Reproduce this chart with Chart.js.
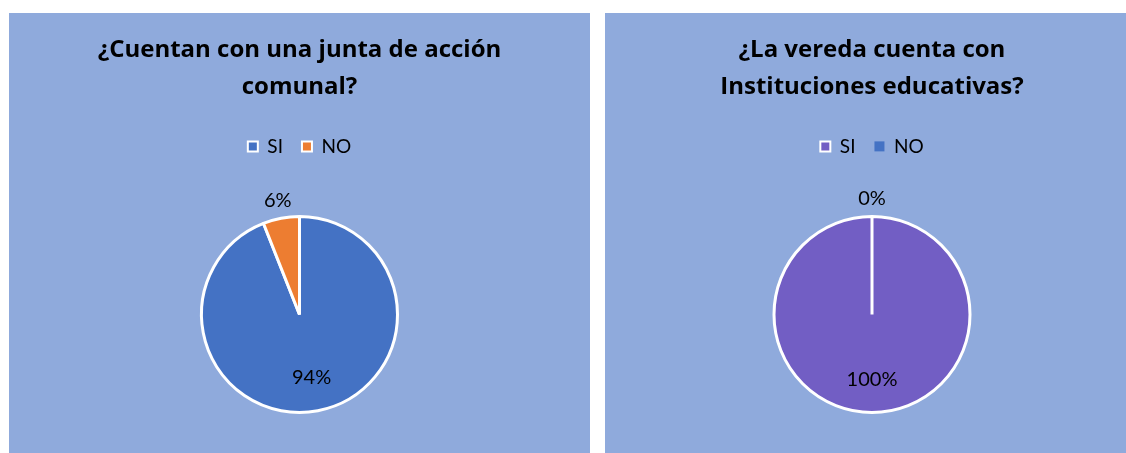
<!DOCTYPE html>
<html>
<head>
<meta charset="utf-8">
<script src="https://cdn.jsdelivr.net/npm/chart.js@4.4.1/dist/chart.umd.min.js"></script>
<style>
  html, body { margin: 0; padding: 0; background: #ffffff; overflow: hidden; }
  body { width: 1126px; height: 453px; position: relative; }
  .panel { position: absolute; top: 13px; height: 440px; background: #8faadc; overflow: hidden; }
  #p1 { left: 9px; width: 581px; }
  #p2 { left: 605px; width: 521px; }
</style>
</head>
<body>
<div class="panel" id="p1"><canvas id="chart1" width="581" height="450"></canvas></div>
<div class="panel" id="p2"><canvas id="chart2" width="534" height="450"></canvas></div>
<script>
'use strict';

var categories = ['SI', 'NO'];

var juntaTitle = ['¿Cuentan con una junta de acción', 'comunal?'];
var juntaValues = [94, 6];
var juntaColors = ['#4472c4', '#ed7d31'];

var escuelaTitle = ['¿La vereda cuenta con', 'Instituciones educativas?'];
var escuelaValues = [100, 0];
var escuelaColors = ['#725ec4', '#4472c4'];

var fontFamily = 'Lato, "Open Sans", sans-serif';
var titleFamily = '"Open Sans", Lato, sans-serif';

// percent labels: big slices inside, small ones just outside the rim
var pctLabels = {
    id: 'pctLabels',
    afterDatasetsDraw: function(chart) {
        var ctx = chart.ctx;
        var data = chart.data.datasets[0].data;
        var total = data.reduce(function(a, b) { return a + b; }, 0);
        var arcs = chart.getDatasetMeta(0).data;
        ctx.save();
        ctx.font = '20px ' + fontFamily;
        ctx.fillStyle = '#000000';
        ctx.textAlign = 'center';
        ctx.textBaseline = 'middle';
        for (var i = 0; i < arcs.length; i++) {
            var p = arcs[i].getProps(['x', 'y', 'startAngle', 'endAngle', 'outerRadius'], true);
            var share = data[i] / total;
            var mid = (p.startAngle + p.endAngle) / 2;
            var r = share > 0.15 ? p.outerRadius * 0.66 : p.outerRadius + 18;
            ctx.fillText(Math.round(share * 100) + '%', p.x + Math.cos(mid) * r, p.y + Math.sin(mid) * r);
        }
        ctx.restore();
    }
};

function makePie(canvasId, title, values, colors) {
    new Chart(document.getElementById(canvasId), {
        type: 'pie',
        data: {
            labels: categories,
            datasets: [{
                data: values,
                backgroundColor: colors,
                borderColor: '#ffffff',
                borderWidth: 3,
                radius: 98
            }]
        },
        plugins: [pctLabels],
        options: {
            responsive: false,
            animation: false,
            layout: { padding: 0 },
            plugins: {
                title: {
                    display: true,
                    text: title,
                    color: '#000000',
                    font: { family: titleFamily, size: 24, weight: 'bold', lineHeight: 1.56 },
                    padding: { top: 18, bottom: 12 }
                },
                legend: {
                    position: 'top',
                    labels: {
                        color: '#000000',
                        font: { family: fontFamily, size: 19 },
                        boxWidth: 10,
                        boxHeight: 10,
                        padding: 19,
                        generateLabels: function(chart) {
                            var items = Chart.overrides.pie.plugins.legend.labels.generateLabels(chart);
                            items.forEach(function(it) {
                                it.lineWidth = values[it.index] > 0 ? 2 : 0;
                            });
                            return items;
                        }
                    }
                },
                tooltip: { enabled: false }
            }
        }
    });
}

makePie('chart1', juntaTitle, juntaValues, juntaColors);
makePie('chart2', escuelaTitle, escuelaValues, escuelaColors);
</script>
</body>
</html>
